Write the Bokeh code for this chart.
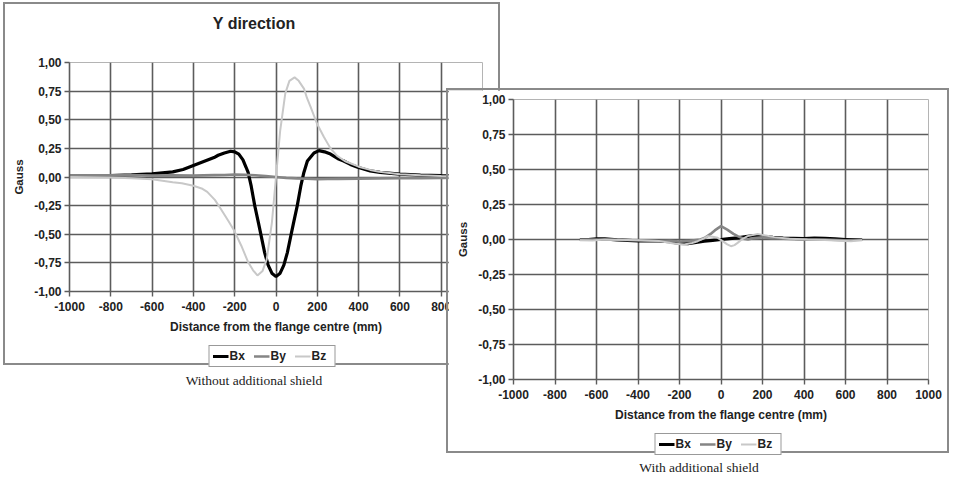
from bokeh.plotting import figure
from bokeh.models import (Range1d, FixedTicker, Legend, LegendItem, Div)
from bokeh.embed import file_html
from bokeh.resources import INLINE

# ---------------- data ----------------
x_ticks = [-1000, -800, -600, -400, -200, 0, 200, 400, 600, 800, 1000]
x_tick_labels = ["-1000", "-800", "-600", "-400", "-200", "0", "200", "400", "600", "800", "1000"]
y_ticks = [-1.0, -0.75, -0.5, -0.25, 0.0, 0.25, 0.5, 0.75, 1.0]
y_tick_labels = ["-1,00", "-0,75", "-0,50", "-0,25", "0,00", "0,25", "0,50", "0,75", "1,00"]

# Left chart: without additional shield
bx_left_x = [-1000, -900, -800, -700, -600, -500, -450, -400, -350, -300, -280, -250, -220, -200,
             -180, -160, -145, -135, -120, -103, -85, -70, -55, -38, -20, 0, 20, 38, 55, 70, 85,
             103, 120, 135, 152, 184, 208, 235, 264, 300, 328, 360, 392, 456, 504, 600, 700, 800,
             900, 1000]
bx_left_y = [0.008, 0.01, 0.013, 0.018, 0.028, 0.045, 0.065, 0.1, 0.135, 0.17, 0.19, 0.21, 0.225,
             0.22, 0.2, 0.15, 0.085, 0.04, -0.08, -0.25, -0.4, -0.53, -0.66, -0.77, -0.84, -0.87,
             -0.84, -0.77, -0.66, -0.53, -0.4, -0.25, -0.08, 0.04, 0.14, 0.21, 0.23, 0.22, 0.2,
             0.16, 0.14, 0.11, 0.088, 0.053, 0.04, 0.025, 0.017, 0.012, 0.01, 0.008]

by_left_x = [-1000, -900, -800, -700, -600, -500, -400, -300, -250, -200, -150, -100, -50, 0,
             50, 100, 150, 200, 250, 300, 400, 500, 600, 700, 800, 900, 1000]
by_left_y = [0.012, 0.015, 0.014, 0.016, 0.012, 0.014, 0.012, 0.016, 0.018, 0.022, 0.02, 0.015,
             0.008, 0.0, -0.008, -0.012, -0.015, -0.02, -0.018, -0.016, -0.015, -0.012, -0.01,
             -0.01, -0.008, -0.006, -0.005]

bz_left_x = [-1000, -800, -700, -600, -500, -456, -400, -360, -333, -296, -267, -232, -202, -168,
             -152, -136, -111, -90, -65, -45, -20, 0, 20, 45, 65, 90, 110, 136, 150, 168, 200,
             232, 264, 296, 333, 360, 400, 456, 500, 600, 700, 800, 1000]
bz_left_y = [0.0, -0.005, -0.01, -0.02, -0.045, -0.055, -0.077, -0.1, -0.13, -0.2, -0.28, -0.38,
             -0.47, -0.6, -0.67, -0.74, -0.815, -0.86, -0.82, -0.72, -0.4, 0.0, 0.4, 0.73, 0.84,
             0.87, 0.84, 0.77, 0.69, 0.61, 0.46, 0.35, 0.25, 0.185, 0.14, 0.12, 0.09, 0.062,
             0.045, 0.025, 0.015, 0.008, 0.003]

# Right chart: with additional shield
bx_right_x = [-680, -640, -600, -560, -500, -400, -300, -250, -200, -160, -120, -80, -40, 0, 40,
              80, 120, 160, 200, 250, 300, 350, 400, 450, 500, 550, 600, 680]
bx_right_y = [0.0, 0.0, 0.005, 0.005, -0.002, -0.01, -0.01, -0.015, -0.028, -0.03, -0.02, -0.012,
              -0.006, 0.0, 0.006, 0.012, 0.02, 0.028, 0.022, 0.015, 0.01, 0.008, 0.006, 0.01,
              0.008, 0.005, 0.0, 0.0]

by_right_x = [-680, -600, -400, -250, -200, -150, -100, -80, -50, -30, 0, 30, 60, 80, 110, 130,
              160, 200, 250, 300, 400, 500, 600, 680]
by_right_y = [0.0, 0.0, -0.005, -0.01, -0.015, -0.01, 0.0, 0.01, 0.04, 0.065, 0.095, 0.07, 0.04,
              0.024, 0.005, 0.0, 0.01, 0.015, 0.01, 0.005, 0.0, 0.0, -0.005, 0.0]

bz_right_x = [-680, -620, -560, -400, -300, -220, -177, -140, -112, -80, -64, -40, -16, 8, 30,
              48, 65, 80, 100, 128, 177, 210, 257, 330, 417, 500, 626, 680]
bz_right_y = [-0.005, -0.008, 0.0, -0.005, -0.01, -0.03, -0.036, -0.025, -0.012, 0.01, 0.024,
              0.02, 0.012, -0.012, -0.035, -0.048, -0.04, -0.024, 0.0, 0.024, 0.04, 0.03, 0.017,
              0.005, 0.0, -0.003, -0.012, -0.005]

series_names = ["Bx", "By", "Bz"]
title_text = "Y direction"
x_label = "Distance from the flange centre (mm)"
y_label = "Gauss"
caption_left = "Without additional shield"
caption_right = "With additional shield"

# ---------------- style ----------------
FONT = "Liberation Sans"
GRID = "#5c5c5c"
LINE_STYLES = [dict(color="#000000", width=3.2),
               dict(color="#858585", width=2.6),
               dict(color="#c8c8c8", width=2.0)]


def make_chart(width, height, left, top, bl, br, bt, bb, series, z=1):
    p = figure(width=width, height=height, output_backend="svg", toolbar_location=None,
               x_range=Range1d(-1000, 1000), y_range=Range1d(-1, 1),
               min_border_left=bl, min_border_right=br, min_border_top=bt,
               min_border_bottom=bb, background_fill_color="white",
               border_fill_color="white",
               styles={"position": "absolute", "left": f"{left}px", "top": f"{top}px",
                       "border": "2px solid #8a8a8a", "z-index": str(z)})
    p.outline_line_color = "#b4b4b4"
    p.outline_line_width = 1

    p.xgrid.ticker = FixedTicker(ticks=x_ticks[1:-1])
    p.ygrid.ticker = FixedTicker(ticks=y_ticks[1:-1])
    for g in (p.xgrid, p.ygrid):
        g.grid_line_color = GRID
        g.grid_line_width = 1.6

    for ax, ticks, labels in ((p.xaxis, x_ticks, x_tick_labels), (p.yaxis, y_ticks, y_tick_labels)):
        ax.ticker = FixedTicker(ticks=ticks)
        ax.major_label_overrides = {t: l for t, l in zip(ticks, labels)}
        ax.minor_tick_line_color = None
        ax.major_tick_in = 0
        ax.major_tick_out = 5
        ax.axis_line_color = GRID
        ax.axis_line_width = 1.6
        ax.major_tick_line_color = GRID
        ax.major_tick_line_width = 1.4
        ax.major_label_text_font = FONT
        ax.major_label_text_font_style = "bold"
        ax.major_label_text_font_size = "12px"
        ax.major_label_text_color = "#222222"
        ax.axis_label_text_font = FONT
        ax.axis_label_text_font_style = "bold"
        ax.axis_label_text_color = "#222222"
    p.xaxis.axis_label = x_label
    p.xaxis.axis_label_text_font_size = "12px"
    p.xaxis.major_label_standoff = 5
    p.xaxis.axis_label_standoff = 6
    p.yaxis.axis_label = y_label
    p.yaxis.axis_label_text_font_size = "11.5px"
    p.yaxis.major_label_standoff = 3
    p.yaxis.axis_label_standoff = 6

    for (xs, ys), st in zip(series, LINE_STYLES):
        p.line(xs, ys, line_color=st["color"], line_width=st["width"])
    return p


def make_legend(left, top, z, series):
    # small transparent panel holding the boxed horizontal legend under each chart;
    # its view range lies away from the data, so only the legend itself shows
    lp = figure(width=170, height=22, output_backend="svg", toolbar_location=None,
                x_axis_location=None, y_axis_location=None, min_border=0,
                x_range=Range1d(5000, 5001), y_range=Range1d(50, 51),
                background_fill_alpha=0, border_fill_alpha=0, outline_line_color=None,
                styles={"position": "absolute", "left": f"{left}px", "top": f"{top}px",
                        "z-index": str(z)})
    lp.grid.visible = False
    items = []
    for name, (xs, ys), st in zip(series_names, series, LINE_STYLES):
        r = lp.line(xs, ys, line_color=st["color"], line_width=st["width"])
        items.append(LegendItem(label=name, renderers=[r]))
    leg = Legend(items=items, orientation="horizontal", location="center",
                 border_line_color="#333333", border_line_width=1.5,
                 background_fill_color="white", background_fill_alpha=1,
                 label_text_font=FONT, label_text_font_style="bold",
                 label_text_font_size="12px", label_text_color="#222222",
                 glyph_width=16, glyph_height=14, label_height=14, label_standoff=1,
                 spacing=4, padding=3, margin=0)
    lp.add_layout(leg, "center")
    return lp


left_series = [(bx_left_x, bx_left_y), (by_left_x, by_left_y), (bz_left_x, bz_left_y)]
right_series = [(bx_right_x, bx_right_y), (by_right_x, by_right_y), (bz_right_x, bz_right_y)]

p1 = make_chart(497, 363, 3, 2, 64, 20, 58, 76, left_series, z=1)
p2 = make_chart(503, 365, 446, 88, 65, 23, 9, 76, right_series, z=5)
l1 = make_legend(187, 345, 2, left_series)
l2 = make_legend(633, 433, 6, right_series)

title_div = Div(text=title_text, width=300,
                styles={"position": "absolute", "left": "99px", "top": "8px",
                        "font-family": FONT, "font-weight": "bold", "font-size": "16px",
                        "color": "#222222", "text-align": "center", "z-index": "3"})

cap_style = {"font-family": "Liberation Serif", "font-size": "13.5px", "color": "#222222",
             "text-align": "center", "position": "absolute"}
d1 = Div(text=caption_left, width=300,
         styles=dict(cap_style, left="99px", top="366px", **{"z-index": "4"}))
d2 = Div(text=caption_right, width=300,
         styles=dict(cap_style, left="544px", top="453px", **{"z-index": "7"}))

open("out.html", "w").write(file_html([p1, l1, title_div, d1, p2, l2, d2], INLINE))
